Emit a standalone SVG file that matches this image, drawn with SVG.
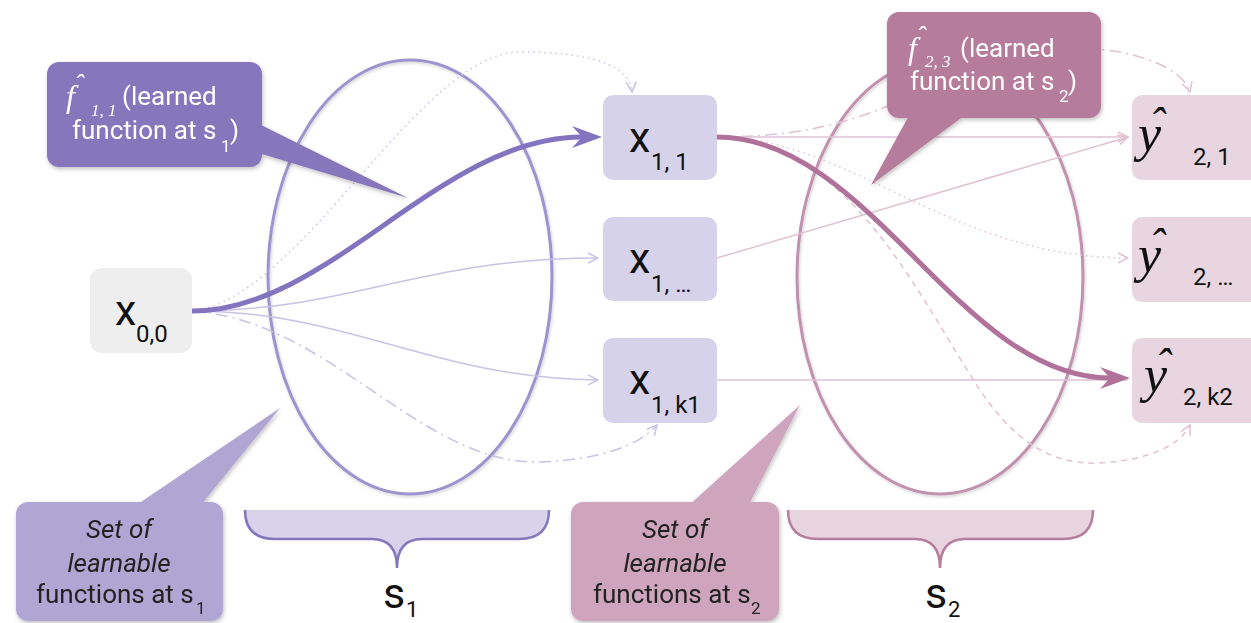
<svg xmlns="http://www.w3.org/2000/svg" width="1251" height="623" viewBox="0 0 1251 623">
<defs>
<style>
text{font-family:Roboto,"Liberation Sans",sans-serif}
.big{font-size:43px;fill:#111}
.sub{font-size:24px;fill:#111}
.ssub{font-size:22px;fill:#111}
.cw{font-size:26px;fill:#fff}
.cwsub{font-size:17px;fill:#fff}
.cd{font-size:26px;fill:#222}
.cdsub{font-size:17px;fill:#222}
.it{font-style:italic}
.math{font-family:"Liberation Serif","DejaVu Serif",serif;font-style:italic}
.ych{font-size:52px;fill:#111}
.yhat{font-size:46px;fill:#111}
.fhat{font-size:28px;fill:#fff}
.xn{fill:#d6d2ea}
.yn{fill:#e8d5df}
.thinP{fill:none;stroke:#c9c2e4;stroke-width:1.5}
.thinM{fill:none;stroke:#e0c2d3;stroke-width:1.5}
</style>
<filter id="sh" x="-20%" y="-20%" width="140%" height="140%">
<feDropShadow dx="1" dy="2" stdDeviation="2" flood-color="#000" flood-opacity="0.25"/>
</filter>
<filter id="shl" x="-10%" y="-10%" width="120%" height="120%">
<feDropShadow dx="1" dy="1.5" stdDeviation="1.5" flood-color="#000" flood-opacity="0.18"/>
</filter>
<marker id="ahP" viewBox="0 0 30 24" refX="10" refY="12" markerWidth="30" markerHeight="24" markerUnits="userSpaceOnUse" orient="auto">
<path d="M0,1 L30,12 L0,23 L10,12 Z" fill="#8274be"/>
</marker>
<marker id="ahM" viewBox="0 0 30 24" refX="10" refY="12" markerWidth="30" markerHeight="24" markerUnits="userSpaceOnUse" orient="auto">
<path d="M0,1 L30,12 L0,23 L10,12 Z" fill="#b0729a"/>
</marker>
<marker id="chP" viewBox="0 0 12 12" refX="11" refY="6" markerWidth="12" markerHeight="12" markerUnits="userSpaceOnUse" orient="auto">
<path d="M1,1 L11,6 L1,11" fill="none" stroke="#c9c2e4" stroke-width="1.5"/>
</marker>
<marker id="chM" viewBox="0 0 12 12" refX="11" refY="6" markerWidth="12" markerHeight="12" markerUnits="userSpaceOnUse" orient="auto">
<path d="M1,1 L11,6 L1,11" fill="none" stroke="#e0c2d3" stroke-width="1.5"/>
</marker>
</defs>
<rect width="1251" height="623" fill="#fff"/>

<g id="ellipse-s1" filter="url(#shl)"><ellipse cx="410" cy="277" rx="142" ry="217" fill="none" stroke="#9d93cf" stroke-width="3"/></g>
<g id="ellipse-s2" filter="url(#shl)"><ellipse cx="940" cy="277" rx="143" ry="217" fill="none" stroke="#c291ad" stroke-width="3"/></g>

<g id="brace-s1">
<path d="M245,510 Q245,539 275,539 L372,539 Q397,539 397,568 Q397,539 422,539 L519,539 Q549,539 549,510 Z" fill="#d8d3eb"/>
<path d="M245,510 Q245,539 275,539 L372,539 Q397,539 397,568 Q397,539 422,539 L519,539 Q549,539 549,510" fill="none" stroke="#8577bd" stroke-width="2.5"/>
</g>
<g id="brace-s2">
<path d="M788,510 Q788,539 818,539 L915,539 Q940,539 940,568 Q940,539 965,539 L1063,539 Q1093,539 1093,510 Z" fill="#e7d4df"/>
<path d="M788,510 Q788,539 818,539 L915,539 Q940,539 940,568 Q940,539 965,539 L1063,539 Q1093,539 1093,510" fill="none" stroke="#b67d9d" stroke-width="2.5"/>
</g>
<g id="label-s1"><text x="383" y="608" class="big">s</text><text x="406" y="617" class="ssub">1</text></g>
<g id="label-s2"><text x="925" y="608" class="big">s</text><text x="948" y="617" class="ssub">2</text></g>

<g id="connectors">
<path class="thinP" stroke-dasharray="1.5 4" d="M192,311 C300,300 420,52 520,52 C590,52 630,65 632,92" marker-end="url(#chP)"/>
<path class="thinP" d="M192,311 C350,311 420,258 598,258" marker-end="url(#chP)"/>
<path class="thinP" d="M192,311 C350,311 430,378 598,380" marker-end="url(#chP)"/>
<path class="thinP" stroke-dasharray="12 5 2 5" d="M192,311 C330,320 420,465 540,462 C600,460 640,445 657,425" marker-end="url(#chP)"/>
<path d="M192,311 C330,311 440,137 582,137" fill="none" stroke="#8274be" stroke-width="5" marker-end="url(#ahP)"/>

<path class="thinM" d="M717,137 L1128,137" marker-end="url(#chM)"/>
<path class="thinM" stroke-dasharray="12 5 2 5" d="M717,137 C820,137 880,115 960,70 C1010,45 1080,45 1120,52 C1160,60 1185,75 1190,92" marker-end="url(#chM)"/>
<path class="thinM" stroke-dasharray="1.5 4" d="M717,137 C850,137 950,258 1128,258" marker-end="url(#chM)"/>
<path class="thinM" stroke-dasharray="6 5" d="M717,137 C850,140 920,300 980,390 C1020,450 1060,465 1100,463 C1150,460 1180,445 1190,425" marker-end="url(#chM)"/>
<path class="thinM" d="M717,258 L1128,137" marker-end="url(#chM)"/>
<path class="thinM" d="M717,380 L1128,380"/>
<path d="M717,137 C870,137 960,378 1110,378" fill="none" stroke="#b0729a" stroke-width="5" marker-end="url(#ahM)"/>
</g>

<g id="node-x00"><rect x="90" y="268" width="102" height="85" rx="12" fill="#eeeeee"/>
<text x="115" y="325" class="big">x</text><text x="136" y="342" class="sub">0,0</text></g>
<g id="node-x11"><rect x="603" y="95" width="114" height="85" rx="10" class="xn"/>
<text x="629" y="152" class="big">x</text><text x="651" y="170" class="sub">1, 1</text></g>
<g id="node-x1d"><rect x="603" y="217" width="114" height="84" rx="10" class="xn"/>
<text x="629" y="273" class="big">x</text><text x="651" y="292" class="sub">1, …</text></g>
<g id="node-x1k"><rect x="603" y="338" width="114" height="85" rx="10" class="xn"/>
<text x="629" y="394" class="big">x</text><text x="651" y="413" class="sub">1, k1</text></g>

<g id="node-y21"><rect x="1132" y="95" width="130" height="85" rx="10" class="yn"/>
<text x="1138" y="151" class="math ych">y</text><text x="1157" y="139" class="math yhat" text-anchor="middle">ˆ</text>
<text x="1193" y="165" class="sub">2, 1</text></g>
<g id="node-y2d"><rect x="1132" y="217" width="130" height="85" rx="10" class="yn"/>
<text x="1138" y="272" class="math ych">y</text><text x="1157" y="260" class="math yhat" text-anchor="middle">ˆ</text>
<text x="1193" y="285" class="sub">2, …</text></g>
<g id="node-y2k"><rect x="1132" y="338" width="130" height="85" rx="10" class="yn"/>
<text x="1144" y="392" class="math ych">y</text><text x="1163" y="380" class="math yhat" text-anchor="middle">ˆ</text>
<text x="1183" y="405" class="sub">2, k2</text></g>

<g id="callout-f11" filter="url(#sh)">
<rect x="47" y="62" width="215" height="105" rx="12" fill="#8677bd"/>
<polygon points="255,122 408,198 255,152" fill="#8677bd"/>
<text x="66" y="107" class="math" font-size="32" fill="#fff">f</text><text x="79" y="93" class="math fhat" text-anchor="middle">ˆ</text>
<text x="91" y="116" class="math" font-size="17" fill="#fff">1, 1</text>
<text x="122" y="105" class="cw">(learned</text>
<text x="72" y="139" class="cw">function at s</text><text x="221" y="152" class="cwsub">1</text><text x="230" y="139" class="cw">)</text>
</g>
<g id="callout-f23" filter="url(#sh)">
<rect x="887" y="12" width="214" height="106" rx="12" fill="#b67c9c"/>
<polygon points="912,110 871,185 972,110" fill="#b67c9c"/>
<text x="908" y="59" class="math" font-size="32" fill="#fff">f</text><text x="921" y="45" class="math fhat" text-anchor="middle">ˆ</text>
<text x="925" y="67" class="math" font-size="17" fill="#fff">2, 3</text>
<text x="960" y="57" class="cw">(learned</text>
<text x="910" y="90" class="cw">function at s</text><text x="1059" y="102" class="cwsub">2</text><text x="1068" y="90" class="cw">)</text>
</g>
<g id="callout-set1" filter="url(#sh)">
<rect x="16" y="502" width="207" height="119" rx="12" fill="#b0a6d3"/>
<polygon points="135,506 280,408 200,506" fill="#b0a6d3"/>
<text x="119" y="538" class="cd it" text-anchor="middle">Set of</text>
<text x="119" y="572" class="cd it" text-anchor="middle">learnable</text>
<text x="36" y="603" class="cd">functions at s</text><text x="196" y="614" class="cdsub">1</text>
</g>
<g id="callout-set2" filter="url(#sh)">
<rect x="571" y="502" width="208" height="119" rx="12" fill="#cfa5be"/>
<polygon points="688,506 800,405 748,506" fill="#cfa5be"/>
<text x="675" y="538" class="cd it" text-anchor="middle">Set of</text>
<text x="675" y="572" class="cd it" text-anchor="middle">learnable</text>
<text x="593" y="603" class="cd">functions at s</text><text x="751" y="614" class="cdsub">2</text>
</g>
</svg>
